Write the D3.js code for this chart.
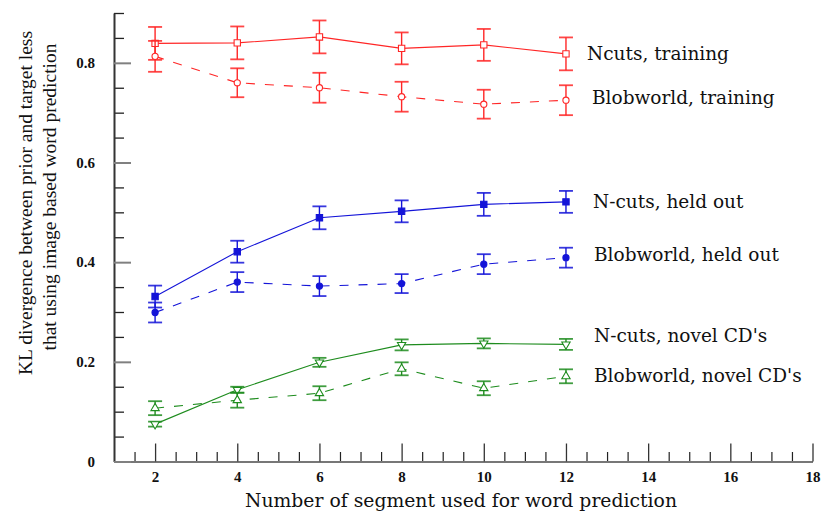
<!DOCTYPE html>
<html><head><meta charset="utf-8">
<script src="https://cdn.jsdelivr.net/npm/d3@7/dist/d3.min.js"></script>
<style>body{margin:0;background:#fff}svg{display:block}</style>
</head><body>
<svg id="c" width="822" height="514"></svg>
<script>
const xValues = [2, 4, 6, 8, 10, 12];
const ncutsTraining = [0.839, 0.840, 0.852, 0.829, 0.836, 0.818];
const ncutsTrainingErr = [0.033, 0.033, 0.033, 0.032, 0.032, 0.033];
const blobTraining = [0.813, 0.760, 0.750, 0.732, 0.717, 0.725];
const blobTrainingErr = [0.031, 0.029, 0.030, 0.030, 0.029, 0.030];
const ncutsHeld = [0.331, 0.421, 0.489, 0.502, 0.516, 0.521];
const ncutsHeldErr = [0.022, 0.022, 0.023, 0.022, 0.023, 0.022];
const blobHeld = [0.299, 0.360, 0.352, 0.357, 0.396, 0.409];
const blobHeldErr = [0.020, 0.020, 0.020, 0.019, 0.020, 0.020];
const ncutsNovel = [0.075, 0.144, 0.199, 0.234, 0.237, 0.235];
const ncutsNovelErr = [0.005, 0.006, 0.009, 0.011, 0.010, 0.011];
const blobNovel = [0.107, 0.123, 0.137, 0.186, 0.147, 0.171];
const blobNovelErr = [0.014, 0.015, 0.014, 0.013, 0.014, 0.014];
const seriesNames = ["Ncuts, training", "Blobworld, training", "N-cuts, held out",
  "Blobworld, held out", "N-cuts, novel CD's", "Blobworld, novel CD's"];
const xTickValues = [2, 4, 6, 8, 10, 12, 14, 16, 18];
const yTickValues = [0, 0.2, 0.4, 0.6, 0.8];
const xTitle = "Number of segment used for word prediction";
const yTitle1 = "KL divergence between prior and target less";
const yTitle2 = "that using image based word prediction";

const series = [
  {name: seriesNames[0], v: ncutsTraining, e: ncutsTrainingErr, color: "#ff2626", dash: null, sym: "square", fill: false, lx: 587, ly: 60},
  {name: seriesNames[1], v: blobTraining, e: blobTrainingErr, color: "#ff2626", dash: "9,10", sym: "circle", fill: false, lx: 592, ly: 104},
  {name: seriesNames[2], v: ncutsHeld, e: ncutsHeldErr, color: "#1414d8", dash: null, sym: "square", fill: true, lx: 593, ly: 208},
  {name: seriesNames[3], v: blobHeld, e: blobHeldErr, color: "#1414d8", dash: "9,10", sym: "circle", fill: true, lx: 594, ly: 261},
  {name: seriesNames[4], v: ncutsNovel, e: ncutsNovelErr, color: "#1e8c1e", dash: null, sym: "down", fill: false, lx: 594, ly: 342},
  {name: seriesNames[5], v: blobNovel, e: blobNovelErr, color: "#1e8c1e", dash: "9,10", sym: "up", fill: false, lx: 594, ly: 382}
];

const svg = d3.select("#c");
svg.append("rect").attr("width", 822).attr("height", 514).attr("fill", "#fff");
const x = d3.scaleLinear().domain([1, 18]).range([114, 812.5]);
const y = d3.scaleLinear().domain([0, 0.9]).range([461.5, 13]);

const tickFont = "'Liberation Serif', serif";
const textFont = "'DejaVu Serif', serif";
const titleFont = "'Liberation Serif', serif";

// X axis: minor then major ticks (pointing up, inside)
const xMinor = d3.range(1.5, 18.01, 0.5).filter(v => v % 2 !== 0);
svg.append("g").attr("transform", `translate(0,${y(0)})`)
  .call(d3.axisBottom(x).tickValues(xMinor).tickSizeInner(-9.5).tickSizeOuter(0).tickFormat(""))
  .call(g => g.select(".domain").remove())
  .call(g => g.selectAll("line").attr("stroke", "#222").attr("stroke-width", 1.2));
svg.append("g").attr("transform", `translate(0,${y(0)})`)
  .call(d3.axisBottom(x).tickValues(xTickValues).tickSizeInner(-18).tickSizeOuter(0).tickPadding(10))
  .call(g => g.select(".domain").attr("stroke", "#777").attr("stroke-width", 2))
  .call(g => g.selectAll("line").attr("stroke", "#333").attr("stroke-width", 1.3))
  .call(g => g.selectAll("text").attr("font-family", tickFont).attr("font-weight", "bold")
    .attr("font-size", 15).attr("fill", "#111"));

// Y axis
const yMinor = d3.range(0.05, 0.91, 0.05).filter(v => Math.abs(v / 0.2 - Math.round(v / 0.2)) > 0.01);
svg.append("g").attr("transform", `translate(${x(1)},0)`)
  .call(d3.axisLeft(y).tickValues(yMinor).tickSizeInner(-10).tickSizeOuter(0).tickFormat(""))
  .call(g => g.select(".domain").remove())
  .call(g => g.selectAll("line").attr("stroke", "#222").attr("stroke-width", 1.3));
svg.append("g").attr("transform", `translate(${x(1)},0)`)
  .call(d3.axisLeft(y).tickValues(yTickValues).tickSizeInner(-17).tickSizeOuter(0).tickPadding(19)
    .tickFormat(d => d === 0 ? "0" : d3.format(".1f")(d)))
  .call(g => g.select(".domain").attr("stroke", "#333").attr("stroke-width", 2))
  .call(g => g.selectAll("line").attr("stroke", "#808080").attr("stroke-width", 2))
  .call(g => g.selectAll("text").attr("font-family", tickFont).attr("font-weight", "bold")
    .attr("font-size", 15).attr("fill", "#111"));

// Series
const symType = {square: d3.symbolSquare, circle: d3.symbolCircle, up: d3.symbolTriangle, down: d3.symbolTriangle};
const symSize = {square: 40, circle: 30, up: 30, down: 30};
series.forEach(s => {
  const pts = xValues.map((xv, i) => ({x: xv, v: s.v[i], e: s.e[i]}));
  const g = svg.append("g");
  g.append("path").datum(pts)
    .attr("d", d3.line().x(d => x(d.x)).y(d => y(d.v)))
    .attr("fill", "none").attr("stroke", s.color).attr("stroke-width", 1.1)
    .attr("stroke-dasharray", s.dash);
  const eb = g.selectAll(".eb").data(pts).join("g");
  eb.append("line").attr("x1", d => x(d.x)).attr("x2", d => x(d.x))
    .attr("y1", d => y(d.v + d.e)).attr("y2", d => y(d.v - d.e))
    .attr("stroke", s.color).attr("stroke-width", 1.4);
  [1, -1].forEach(sg => {
    eb.append("line").attr("x1", d => x(d.x) - 7).attr("x2", d => x(d.x) + 7)
      .attr("y1", d => y(d.v + sg * d.e)).attr("y2", d => y(d.v + sg * d.e))
      .attr("stroke", s.color).attr("stroke-width", 1.8).attr("stroke-opacity", 0.85);
  });
  g.selectAll(".m").data(pts).join("path")
    .attr("d", d3.symbol().type(symType[s.sym]).size(symSize[s.sym]))
    .attr("transform", d => `translate(${x(d.x)},${y(d.v)})` + (s.sym === "down" ? " rotate(180)" : ""))
    .attr("fill", s.fill ? s.color : "#fff").attr("stroke", s.color).attr("stroke-width", 1.1);
  svg.append("text").attr("x", s.lx).attr("y", s.ly).text(s.name)
    .attr("font-family", textFont).attr("font-size", 18.5).attr("fill", "#111");
});

// Titles
svg.append("text").attr("x", 461).attr("y", 507).attr("text-anchor", "middle")
  .attr("font-family", textFont).attr("font-size", 19).attr("fill", "#111")
  .attr("textLength", 432).attr("lengthAdjust", "spacingAndGlyphs").text(xTitle);
svg.append("text").attr("transform", "translate(32,203) rotate(-90)").attr("text-anchor", "middle")
  .attr("font-family", titleFont).attr("font-size", 19.5).attr("fill", "#111").text(yTitle1);
svg.append("text").attr("transform", "translate(56,197) rotate(-90)").attr("text-anchor", "middle")
  .attr("font-family", titleFont).attr("font-size", 19.5).attr("fill", "#111").text(yTitle2);
</script>
</body></html>
